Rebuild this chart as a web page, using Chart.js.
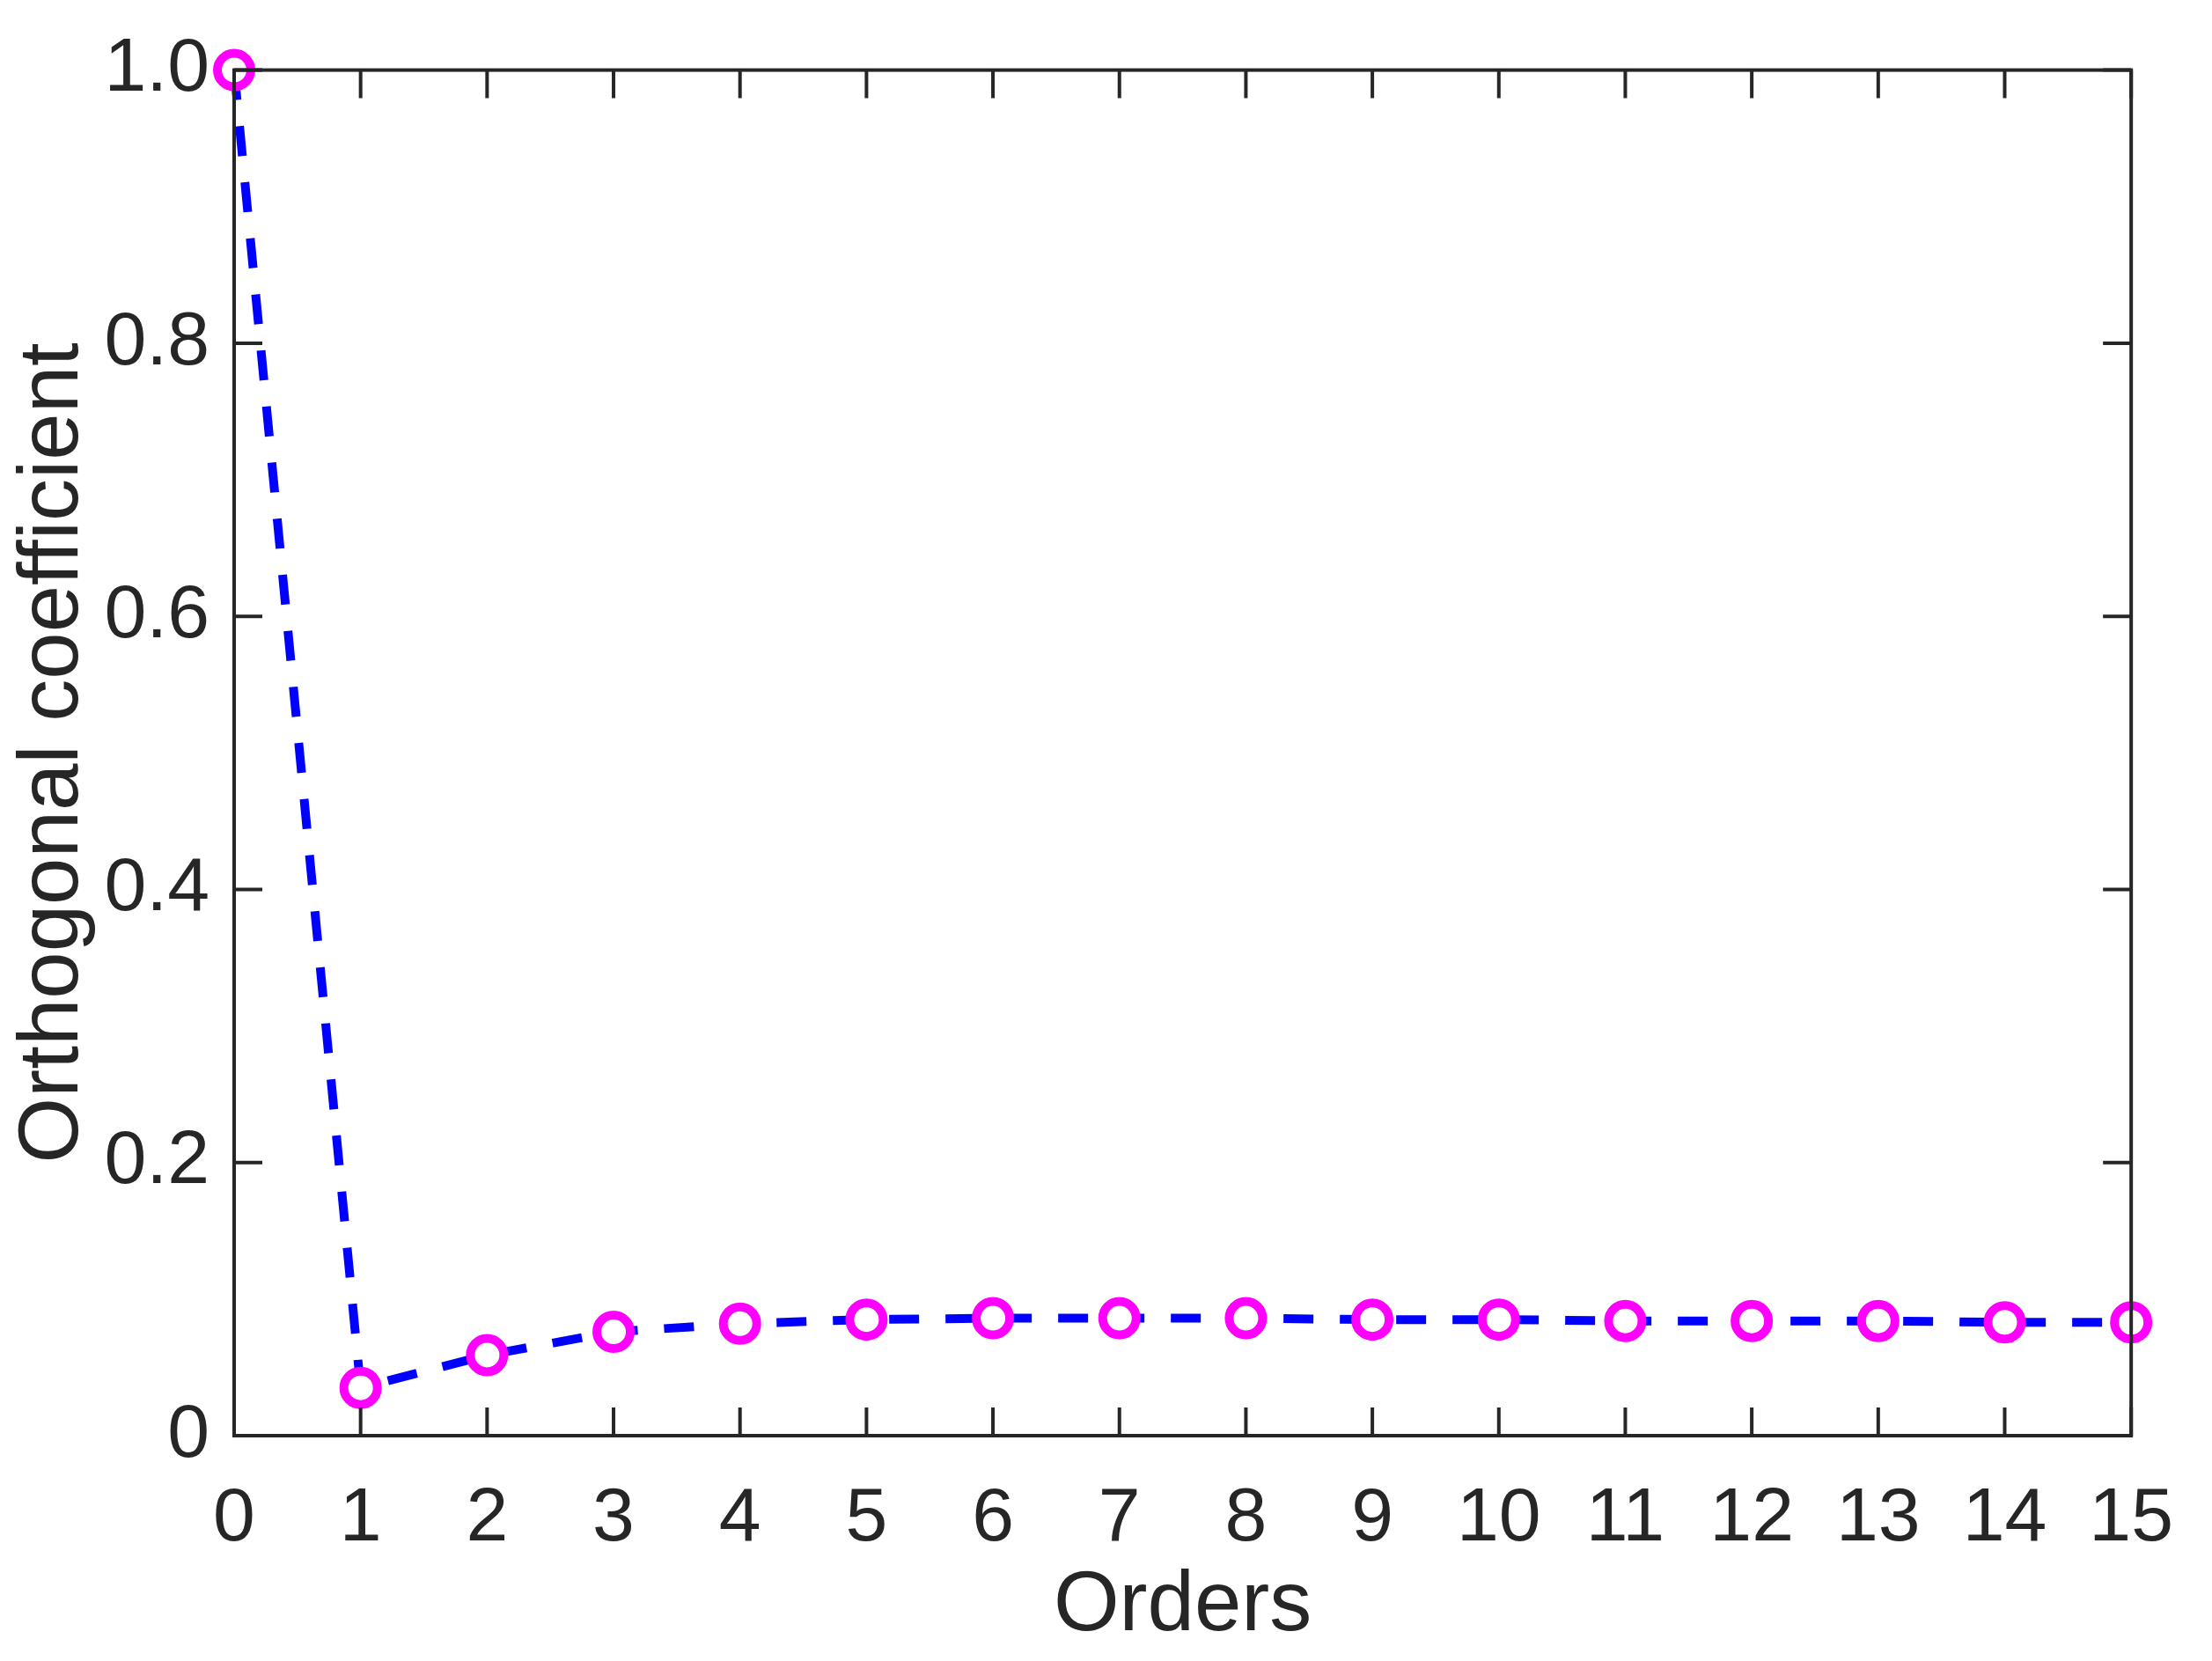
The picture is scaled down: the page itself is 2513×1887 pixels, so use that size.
<!DOCTYPE html>
<html>
<head>
<meta charset="utf-8">
<script src="https://cdn.jsdelivr.net/npm/chart.js@4"></script>
<style>
  html, body { margin: 0; padding: 0; background: #fff; }
  #wrap { width: 2513px; height: 1887px; }
</style>
</head>
<body>
<div id="wrap"><canvas id="chart" width="2513" height="1887"></canvas></div>
<script>
// Data
const orders = [0, 1, 2, 3, 4, 5, 6, 7, 8, 9, 10, 11, 12, 13, 14, 15];
const coefficients = [1.0, 0.035, 0.059, 0.076, 0.082, 0.085, 0.086, 0.086, 0.086, 0.085, 0.085, 0.084, 0.084, 0.084, 0.083, 0.083];
const xTicks = [0, 1, 2, 3, 4, 5, 6, 7, 8, 9, 10, 11, 12, 13, 14, 15];
const yTicks = [0, 0.2, 0.4, 0.6, 0.8, 1];

const axisColor = "#262626";
const font = "Liberation Sans, Arial, sans-serif";

// Draw the box and inward ticks on all four sides, like MATLAB
const matlabFrame = {
  id: "matlabFrame",
  afterDatasetsDraw(chart) {
    const { ctx, chartArea: a, scales: { x, y } } = chart;
    const len = 32;
    ctx.save();
    ctx.strokeStyle = axisColor;
    ctx.lineWidth = 4;
    ctx.strokeRect(a.left, a.top, a.right - a.left, a.bottom - a.top);
    ctx.beginPath();
    xTicks.forEach(v => {
      const px = x.getPixelForValue(v);
      ctx.moveTo(px, a.bottom); ctx.lineTo(px, a.bottom - len);
      ctx.moveTo(px, a.top); ctx.lineTo(px, a.top + len);
    });
    yTicks.forEach(v => {
      const py = y.getPixelForValue(v);
      ctx.moveTo(a.left, py); ctx.lineTo(a.left + len, py);
      ctx.moveTo(a.right, py); ctx.lineTo(a.right - len, py);
    });
    ctx.stroke();
    ctx.restore();
  }
};

new Chart(document.getElementById("chart").getContext("2d"), {
  type: "line",
  data: {
    datasets: [{
      data: orders.map((o, i) => ({ x: o, y: coefficients[i] })),
      borderColor: "#0000ff",
      borderWidth: 10,
      borderDash: [34, 30],
      pointRadius: 19,
      pointBorderWidth: 10,
      pointBorderColor: "#ff00ff",
      pointBackgroundColor: "#ffffff",
      tension: 0,
      clip: false
    }]
  },
  options: {
    responsive: false,
    animation: false,
    devicePixelRatio: 1,
    layout: { padding: { top: 45, right: 63, left: 0, bottom: 0 } },
    plugins: { legend: { display: false }, tooltip: { enabled: false } },
    scales: {
      x: {
        type: "linear",
        min: 0,
        max: 15,
        afterBuildTicks: s => { s.ticks = xTicks.map(v => ({ value: v })); },
        afterFit: s => { s.height = 256; },
        grid: { display: false, drawTicks: false },
        border: { display: false },
        ticks: { color: axisColor, padding: 44, font: { family: font, size: 86 } },
        title: { display: true, text: "Orders", color: axisColor, padding: { top: 22 }, font: { family: font, size: 96 } }
      },
      y: {
        min: 0,
        max: 1,
        afterBuildTicks: s => { s.ticks = yTicks.map(v => ({ value: v })); },
        afterFit: s => { s.width = 266; },
        grid: { display: false, drawTicks: false },
        border: { display: false },
        ticks: { color: axisColor, padding: 28, font: { family: font, size: 86 } },
        title: { display: true, text: "Orthogonal coefficient", color: axisColor, padding: { bottom: 0 }, font: { family: font, size: 96 } }
      }
    }
  },
  plugins: [matlabFrame]
});
</script>
</body>
</html>
